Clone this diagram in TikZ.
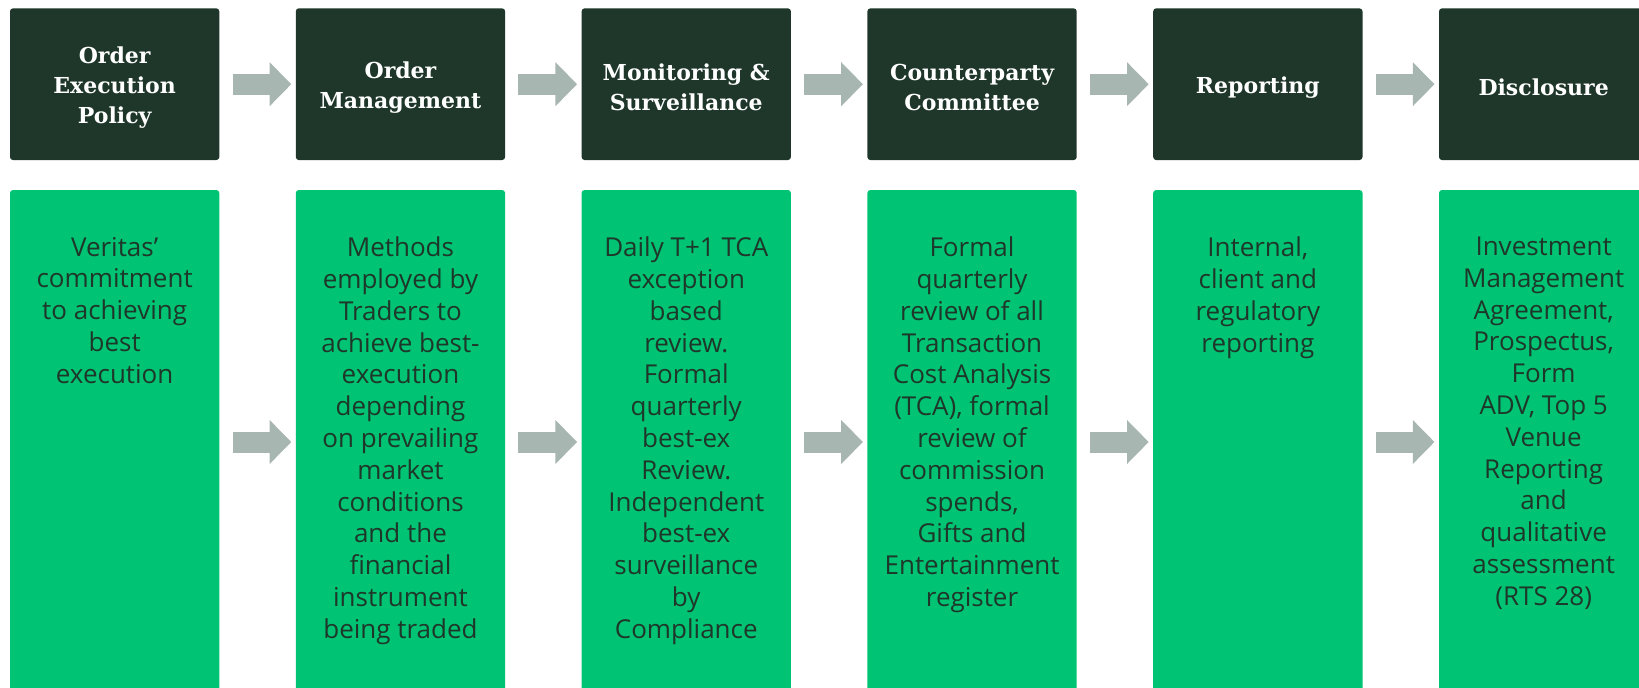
\documentclass[tikz,border=0pt]{standalone}
\usepackage{fontspec}
\setmainfont{Open Sans}
\newfontfamily\slabfont{DejaVu Serif}
\usetikzlibrary{arrows.meta,positioning}
\definecolor{darkbox}{RGB}{30,55,42}
\definecolor{greenbox}{RGB}{0,196,115}
\definecolor{arrowgrey}{RGB}{168,182,177}
\definecolor{textgreen}{RGB}{30,55,42}

\begin{document}
\begin{tikzpicture}[x=1pt,y=-1pt,
    head/.style={fill=darkbox,rounded corners=3pt,minimum width=209.3pt,minimum height=151.7pt,inner sep=0pt},
    title/.style={inner sep=0pt,align=center,text=white,font=\slabfont\bfseries\fontsize{22}{30}\selectfont},
    body/.style={fill=greenbox,rounded corners=3pt,minimum width=209.3pt,minimum height=504pt,inner sep=0pt},
    desc/.style={inner sep=0pt,align=center,text=textgreen,font=\fontsize{26}{31.8}\selectfont},
    flow/.style={draw=arrowgrey,line width=21pt,-{Triangle[length=21.7pt,width=42.7pt]},shorten <=13pt,shorten >=4.3pt}]
    \useasboundingbox (0,0) rectangle (1639,688);
    \foreach \i/\t in {1/{Order\\Execution\\Policy}, 2/{Order\\Management}, 3/{Monitoring \&\\Surveillance},
                       4/{Counterparty\\Committee}, 5/{Reporting}, 6/{Disclosure}} {%
      \node[head] at ({114.65+285.8*(\i-1)},84.2) (h\i) {};%
      \node[title] at ([yshift=-3pt]h\i.center) (t\i) {\t};%
      \node[body] at ({114.65+285.8*(\i-1)},442) (g\i) {};%
    };%
    \node[desc,below=47pt of g1.north] (d1) {Veritas’\\commitment\\to achieving\\best\\execution};%
    \node[desc,below=47pt of g2.north] (d2) {Methods\\employed by\\Traders to\\achieve best-\\execution\\depending\\on prevailing\\market\\conditions\\and the\\financial\\instrument\\being traded};%
    \node[desc,below=47pt of g3.north] (d3) {Daily T+1 TCA\\exception\\based\\review.\\Formal\\quarterly\\best-ex\\Review.\\Independent\\best-ex\\surveillance\\by\\Compliance};%
    \node[desc,below=47pt of g4.north] (d4) {Formal\\quarterly\\review of all\\Transaction\\Cost Analysis\\(TCA), formal\\review of\\commission\\spends,\\Gifts and\\Entertainment\\register};%
    \node[desc,below=47pt of g5.north] (d5) {Internal,\\client and\\regulatory\\reporting};%
    \node[desc,below=47pt of g6.north] (d6) {Investment\\Management\\Agreement,\\Prospectus,\\Form\\ADV, Top 5\\Venue\\Reporting\\and\\qualitative\\assessment\\(RTS 28)};%
    \foreach \i/\j in {1/2, 2/3, 3/4, 4/5, 5/6} {%
      \draw[flow] (h\i) -- (h\j);%
      \draw[flow] (g\i) -- (g\j);%
    };%
  \end{tikzpicture}
\end{document}
